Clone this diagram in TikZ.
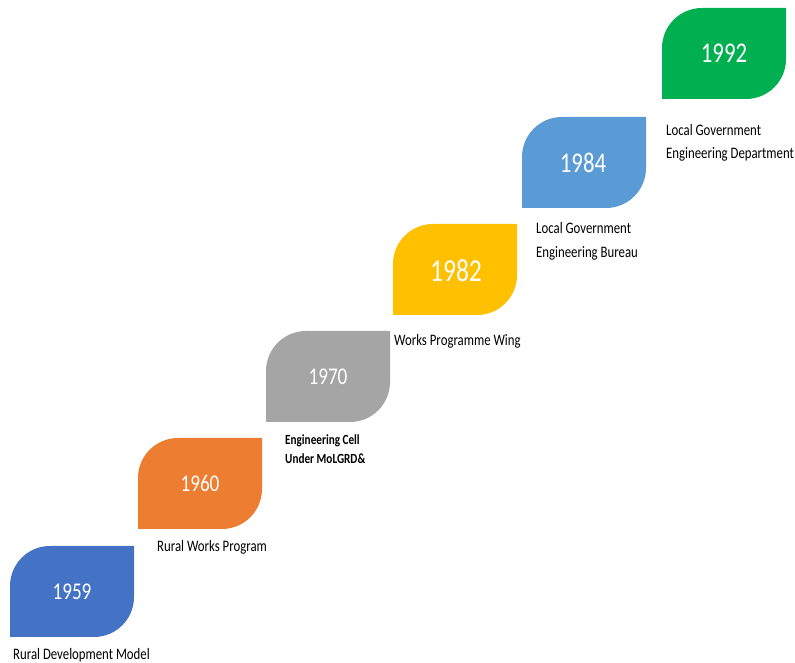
\documentclass[tikz,border=0pt]{standalone}
\usepackage{fontspec}
\setmainfont{Carlito}[FakeStretch=0.8]
\usepackage{tikz}

\definecolor{blueA}{HTML}{4472C4}
\definecolor{orangeA}{HTML}{ED7D31}
\definecolor{grayA}{HTML}{A5A5A5}
\definecolor{goldA}{HTML}{FFC000}
\definecolor{blueB}{HTML}{5B9BD5}
\definecolor{greenA}{HTML}{00B050}

\tikzset{
  year/.style={text=white,inner sep=0,font=\fontsize{#1}{#1}\selectfont},
  year/.default=24,
  caption/.style={anchor=west,align=left,inner sep=0,font=\fontsize{16}{23.5}\selectfont},
  boldcaption/.style={anchor=west,align=left,inner sep=0,font=\fontsize{14}{19}\selectfont\bfseries}
}

\begin{document}
\begin{tikzpicture}[x=1pt,y=1pt]

\useasboundingbox (0,0) rectangle (795,663);

% leaves, bottom left to top right
\fill [blueA,shift={(10,26)}] (0,0) -- (0,51) arc[start angle=180,end angle=90,radius=40pt] -- (124,91) -- (124,40) arc[start angle=0,end angle=-90,radius=40pt] -- cycle;
\fill [orangeA,shift={(138,134)}] (0,0) -- (0,51) arc[start angle=180,end angle=90,radius=40pt] -- (124,91) -- (124,40) arc[start angle=0,end angle=-90,radius=40pt] -- cycle;
\fill [grayA,shift={(266,241)}] (0,0) -- (0,51) arc[start angle=180,end angle=90,radius=40pt] -- (124,91) -- (124,40) arc[start angle=0,end angle=-90,radius=40pt] -- cycle;
\fill [goldA,shift={(393,348)}] (0,0) -- (0,51) arc[start angle=180,end angle=90,radius=40pt] -- (124,91) -- (124,40) arc[start angle=0,end angle=-90,radius=40pt] -- cycle;
\fill [blueB,shift={(522,455)}] (0,0) -- (0,51) arc[start angle=180,end angle=90,radius=40pt] -- (124,91) -- (124,40) arc[start angle=0,end angle=-90,radius=40pt] -- cycle;
\fill [greenA,shift={(662,564)}] (0,0) -- (0,51) arc[start angle=180,end angle=90,radius=40pt] -- (124,91) -- (124,40) arc[start angle=0,end angle=-90,radius=40pt] -- cycle;

% years
\node [year] (y1959) at (72,71.5) {1959};
\node [year] (y1960) at (200,179.5) {1960};
\node [year] (y1970) at (328,286.5) {1970};
\node [year=32] (y1982) at (456,392.5) {1982};
\node [year=28.5] (y1984) at (583,500.5) {1984};
\node [year=28.5] (y1992) at (724,609.5) {1992};

% captions
\node [caption] (c1959) at (13,8) {Rural Development Model};
\node [caption] (c1960) at (157,116) {Rural Works Program};
\node [boldcaption] (c1970) at (285,213.5) {Engineering Cell\\Under MoLGRD\&};
\node [caption] (c1982) at (394,322) {Works Programme Wing};
\node [caption] (c1984) at (536,421.5) {Local Government\\Engineering Bureau};
\node [caption] (c1992) at (666,520) {Local Government\\Engineering Department};

\end{tikzpicture}
\end{document}
